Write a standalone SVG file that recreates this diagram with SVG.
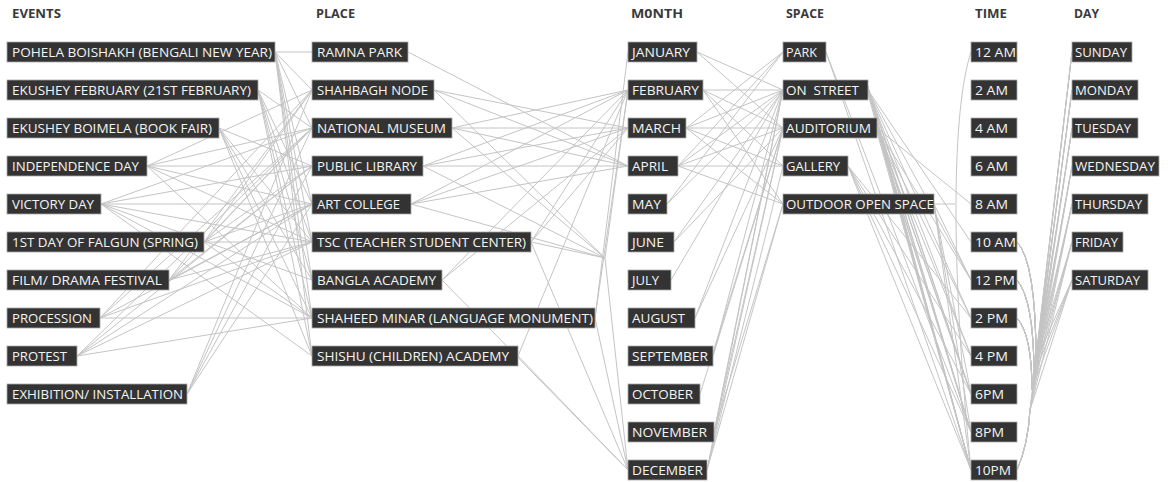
<svg xmlns="http://www.w3.org/2000/svg" width="1168" height="482" viewBox="0 0 1168 482">
<style>
.hd{font-family:"Open Sans","Liberation Sans",sans-serif;font-weight:bold;font-size:12px;fill:#3a3a3a}
.bx{fill:#333333;stroke:#a8a8a8;stroke-width:0.8}
.lb{font-family:"Open Sans","Liberation Sans",sans-serif;font-size:13.5px;fill:#f5f5f5}
#connectors path{fill:none;stroke:#c4c4c4;stroke-width:1}
</style>
<rect width="1168" height="482" fill="#ffffff"/>
<g id="headers">
<text class="hd" x="12" y="18" textLength="49" lengthAdjust="spacingAndGlyphs">EVENTS</text>
<text class="hd" x="316" y="18" textLength="39" lengthAdjust="spacingAndGlyphs">PLACE</text>
<text class="hd" x="631" y="18" textLength="52" lengthAdjust="spacingAndGlyphs">M0NTH</text>
<text class="hd" x="786" y="18" textLength="38" lengthAdjust="spacingAndGlyphs">SPACE</text>
<text class="hd" x="975" y="18" textLength="32" lengthAdjust="spacingAndGlyphs">TIME</text>
<text class="hd" x="1074" y="18" textLength="25" lengthAdjust="spacingAndGlyphs">DAY</text>
</g>
<g id="connectors">
<!-- events to places -->
<path d="M275 52L312 52M275 52L312 90M275 52L312 128M275 52L312 204M275 52L312 242M275 52L312 280M275 52L312 318M275 52L312 356"/>
<path d="M258 90L312 128M258 90L312 204M258 90L312 242M258 90L312 280M258 90L312 318M258 90L312 356"/>
<path d="M219 128L312 166M219 128L312 242M219 128L312 280M219 128L312 318M219 128L312 356"/>
<path d="M147 166L312 90M147 166L312 128M147 166L312 166M147 166L312 204M147 166L312 242M147 166L312 318"/>
<path d="M101 204L312 128M101 204L312 166M101 204L312 204M101 204L312 242M101 204L312 280M101 204L312 318M101 204L312 356"/>
<path d="M204 242L312 90M204 242L312 128M204 242L312 166M204 242L312 204M204 242L312 242M204 242L312 318"/>
<path d="M169 280L312 90M169 280L312 128M169 280L312 166M169 280L312 204M169 280L312 242"/>
<path d="M100 318L312 90M100 318L312 128M100 318L312 204M100 318L312 242M100 318L312 318"/>
<path d="M77 356L312 128M77 356L312 166M77 356L312 204M77 356L312 242M77 356L312 318"/>
<path d="M187 394L312 90M187 394L312 128M187 394L312 166M187 394L312 204"/>
<!-- places to months -->
<path d="M408 52L628 166"/>
<path d="M434 90L628 128M434 90L628 166M434 90L605 258"/>
<path d="M452 128L628 90M452 128L628 128M452 128L628 166M452 128L605 258"/>
<path d="M423 166L628 90M423 166L628 128M423 166L628 166M423 166L605 258"/>
<path d="M411 204L628 90M411 204L628 128M411 204L628 166M411 204L605 258"/>
<path d="M531 242L628 90M531 242L628 128M531 242L628 470M531 242L605 258"/>
<path d="M442 280L628 90M442 280L628 128M442 280L628 470"/>
<path d="M595 318L628 52M595 318L628 90M595 318L628 470"/>
<path d="M518 356L628 90M518 356L628 470"/>
<path d="M605 258L628 90M605 258L628 470"/>
<!-- months to spaces -->
<path d="M697 52L783 90M697 52L783 128"/>
<path d="M703 90L783 90M703 90L783 128M703 90L783 166M703 90L783 204"/>
<path d="M686 128L783 52M686 128L783 90M686 128L783 128M686 128L783 166M686 128L783 204"/>
<path d="M678 166L783 52M678 166L783 90M678 166L783 128M678 166L783 166M678 166L783 204"/>
<path d="M667 204L783 52M667 204L783 90"/>
<path d="M674 242L783 90M674 242L783 128"/>
<path d="M671 280L783 90"/>
<path d="M695 318L783 90M695 318L783 128"/>
<path d="M713 356L783 90M713 356L783 128"/>
<path d="M700 394L783 128"/>
<path d="M714 432L783 90M714 432L783 128M714 432L783 204"/>
<path d="M707 470L783 90M707 470L783 128M707 470L783 166M707 470L783 204"/>
<!-- spaces to times -->
<path d="M826 52L971 432M826 52L971 470"/>
<path d="M868 90L971 242M868 90L971 280M868 90L971 318M868 90L971 356M868 90L971 394M868 90L971 432M868 90L971 470"/>
<path d="M868 88L971 394M868 92L971 432M868 94L971 470M868 86L971 470"/>
<path d="M877 128L971 204M877 128L971 280M877 128L971 318M877 128L971 356M877 128L971 394M877 128L971 432M877 128L971 470"/>
<path d="M877 126L971 394M877 130L971 432M877 132L971 470M877 124L971 470"/>
<path d="M848 166L971 318M848 166L971 356M848 166L971 394M848 166L971 432M848 166L971 470"/>
<path d="M934 204L955 204M934 204L971 280M934 204L971 394M934 204L971 432M934 204L971 470"/>
<path d="M971 52C952 110 950 260 971 470"/>
<!-- times to days -->
<path d="M1017 242Q1036 262 1036 360L1072 52M1017 242Q1036 262 1036 360L1072 90M1017 242Q1036 262 1036 360L1072 128M1017 242Q1036 262 1036 360L1072 166M1017 242Q1036 262 1036 360L1072 204M1017 242Q1036 262 1036 360L1072 242M1017 242Q1036 262 1036 360L1072 280"/>
<path d="M1017 280Q1034 300 1034 375L1072 52M1017 280Q1034 300 1034 375L1072 90M1017 280Q1034 300 1034 375L1072 128M1017 280Q1034 300 1034 375L1072 166M1017 280Q1034 300 1034 375L1072 204M1017 280Q1034 300 1034 375L1072 242M1017 280Q1034 300 1034 375L1072 280"/>
<path d="M1017 318Q1032 335 1032 390L1072 52M1017 318Q1032 335 1032 390L1072 90M1017 318Q1032 335 1032 390L1072 128M1017 318Q1032 335 1032 390L1072 166M1017 318Q1032 335 1032 390L1072 204M1017 318Q1032 335 1032 390L1072 242M1017 318Q1032 335 1032 390L1072 280"/>
<path d="M1017 470Q1028 445 1030 410L1072 52M1017 470Q1028 445 1030 410L1072 90M1017 470Q1028 445 1030 410L1072 128M1017 470Q1028 445 1030 410L1072 166M1017 470Q1028 445 1030 410L1072 204M1017 470Q1028 445 1030 410L1072 242M1017 470Q1028 445 1030 410L1072 280"/>
</g>
<!-- events -->
<g id="ev-pohela"><rect class="bx" x="7" y="42" width="268" height="20"/><text class="lb" x="12" y="57.3" textLength="260" lengthAdjust="spacingAndGlyphs">POHELA BOISHAKH (BENGALI NEW YEAR)</text></g>
<g id="ev-ekushey"><rect class="bx" x="7" y="80" width="251" height="20"/><text class="lb" x="12" y="95.3" textLength="239" lengthAdjust="spacingAndGlyphs">EKUSHEY FEBRUARY (21ST FEBRUARY)</text></g>
<g id="ev-boimela"><rect class="bx" x="7" y="118" width="212" height="20"/><text class="lb" x="12" y="133.3" textLength="200" lengthAdjust="spacingAndGlyphs">EKUSHEY BOIMELA (BOOK FAIR)</text></g>
<g id="ev-independence"><rect class="bx" x="7" y="156" width="140" height="20"/><text class="lb" x="12" y="171.3" textLength="127" lengthAdjust="spacingAndGlyphs">INDEPENDENCE DAY</text></g>
<g id="ev-victory"><rect class="bx" x="7" y="194" width="94" height="20"/><text class="lb" x="12" y="209.3" textLength="82" lengthAdjust="spacingAndGlyphs">VICTORY DAY</text></g>
<g id="ev-falgun"><rect class="bx" x="7" y="232" width="197" height="20"/><text class="lb" x="12" y="247.3" textLength="186" lengthAdjust="spacingAndGlyphs">1ST DAY OF FALGUN (SPRING)</text></g>
<g id="ev-film"><rect class="bx" x="7" y="270" width="162" height="20"/><text class="lb" x="12" y="285.3" textLength="150" lengthAdjust="spacingAndGlyphs">FILM/ DRAMA FESTIVAL</text></g>
<g id="ev-procession"><rect class="bx" x="7" y="308" width="93" height="20"/><text class="lb" x="12" y="323.3" textLength="80" lengthAdjust="spacingAndGlyphs">PROCESSION</text></g>
<g id="ev-protest"><rect class="bx" x="7" y="346" width="70" height="20"/><text class="lb" x="12" y="361.3" textLength="55" lengthAdjust="spacingAndGlyphs">PROTEST</text></g>
<g id="ev-exhibition"><rect class="bx" x="7" y="384" width="180" height="20"/><text class="lb" x="12" y="399.3" textLength="171" lengthAdjust="spacingAndGlyphs">EXHIBITION/ INSTALLATION</text></g>
<!-- places -->
<g id="pl-ramna"><rect class="bx" x="312" y="42" width="96" height="20"/><text class="lb" x="317" y="57.3" textLength="85" lengthAdjust="spacingAndGlyphs">RAMNA PARK</text></g>
<g id="pl-shahbagh"><rect class="bx" x="312" y="80" width="122" height="20"/><text class="lb" x="317" y="95.3" textLength="111" lengthAdjust="spacingAndGlyphs">SHAHBAGH NODE</text></g>
<g id="pl-museum"><rect class="bx" x="312" y="118" width="140" height="20"/><text class="lb" x="317" y="133.3" textLength="129" lengthAdjust="spacingAndGlyphs">NATIONAL MUSEUM</text></g>
<g id="pl-library"><rect class="bx" x="312" y="156" width="111" height="20"/><text class="lb" x="317" y="171.3" textLength="100" lengthAdjust="spacingAndGlyphs">PUBLIC LIBRARY</text></g>
<g id="pl-artcollege"><rect class="bx" x="312" y="194" width="99" height="20"/><text class="lb" x="317" y="209.3" textLength="83" lengthAdjust="spacingAndGlyphs">ART COLLEGE</text></g>
<g id="pl-tsc"><rect class="bx" x="312" y="232" width="219" height="20"/><text class="lb" x="317" y="247.3" textLength="209" lengthAdjust="spacingAndGlyphs">TSC (TEACHER STUDENT CENTER)</text></g>
<g id="pl-bangla"><rect class="bx" x="312" y="270" width="130" height="20"/><text class="lb" x="317" y="285.3" textLength="119" lengthAdjust="spacingAndGlyphs">BANGLA ACADEMY</text></g>
<g id="pl-shaheed"><rect class="bx" x="312" y="308" width="283" height="20"/><text class="lb" x="317" y="323.3" textLength="276" lengthAdjust="spacingAndGlyphs">SHAHEED MINAR (LANGUAGE MONUMENT)</text></g>
<g id="pl-shishu"><rect class="bx" x="312" y="346" width="206" height="20"/><text class="lb" x="317" y="361.3" textLength="192" lengthAdjust="spacingAndGlyphs">SHISHU (CHILDREN) ACADEMY</text></g>
<!-- months -->
<g id="mo-jan"><rect class="bx" x="628" y="42" width="69" height="20"/><text class="lb" x="632" y="57.3" textLength="58" lengthAdjust="spacingAndGlyphs">JANUARY</text></g>
<g id="mo-feb"><rect class="bx" x="628" y="80" width="75" height="20"/><text class="lb" x="632" y="95.3" textLength="67" lengthAdjust="spacingAndGlyphs">FEBRUARY</text></g>
<g id="mo-mar"><rect class="bx" x="628" y="118" width="58" height="20"/><text class="lb" x="632" y="133.3" textLength="49" lengthAdjust="spacingAndGlyphs">MARCH</text></g>
<g id="mo-apr"><rect class="bx" x="628" y="156" width="50" height="20"/><text class="lb" x="632" y="171.3" textLength="36" lengthAdjust="spacingAndGlyphs">APRIL</text></g>
<g id="mo-may"><rect class="bx" x="628" y="194" width="39" height="20"/><text class="lb" x="632" y="209.3" textLength="29" lengthAdjust="spacingAndGlyphs">MAY</text></g>
<g id="mo-jun"><rect class="bx" x="628" y="232" width="46" height="20"/><text class="lb" x="632" y="247.3" textLength="32" lengthAdjust="spacingAndGlyphs">JUNE</text></g>
<g id="mo-jul"><rect class="bx" x="628" y="270" width="43" height="20"/><text class="lb" x="632" y="285.3" textLength="27" lengthAdjust="spacingAndGlyphs">JULY</text></g>
<g id="mo-aug"><rect class="bx" x="628" y="308" width="67" height="20"/><text class="lb" x="632" y="323.3" textLength="53" lengthAdjust="spacingAndGlyphs">AUGUST</text></g>
<g id="mo-sep"><rect class="bx" x="628" y="346" width="85" height="20"/><text class="lb" x="632" y="361.3" textLength="76" lengthAdjust="spacingAndGlyphs">SEPTEMBER</text></g>
<g id="mo-oct"><rect class="bx" x="628" y="384" width="72" height="20"/><text class="lb" x="632" y="399.3" textLength="61" lengthAdjust="spacingAndGlyphs">OCTOBER</text></g>
<g id="mo-nov"><rect class="bx" x="628" y="422" width="86" height="20"/><text class="lb" x="632" y="437.3" textLength="75" lengthAdjust="spacingAndGlyphs">NOVEMBER</text></g>
<g id="mo-dec"><rect class="bx" x="628" y="460" width="79" height="20"/><text class="lb" x="632" y="475.3" textLength="71" lengthAdjust="spacingAndGlyphs">DECEMBER</text></g>
<!-- spaces -->
<g id="sp-park"><rect class="bx" x="783" y="42" width="43" height="20"/><text class="lb" x="786" y="57.3" textLength="31" lengthAdjust="spacingAndGlyphs">PARK</text></g>
<g id="sp-street"><rect class="bx" x="783" y="80" width="85" height="20"/><text class="lb" x="786" y="95.3" textLength="73" lengthAdjust="spacingAndGlyphs" xml:space="preserve">ON  STREET</text></g>
<g id="sp-auditorium"><rect class="bx" x="783" y="118" width="94" height="20"/><text class="lb" x="786" y="133.3" textLength="85" lengthAdjust="spacingAndGlyphs">AUDITORIUM</text></g>
<g id="sp-gallery"><rect class="bx" x="783" y="156" width="65" height="20"/><text class="lb" x="786" y="171.3" textLength="54" lengthAdjust="spacingAndGlyphs">GALLERY</text></g>
<g id="sp-outdoor"><rect class="bx" x="783" y="194" width="151" height="20"/><text class="lb" x="786" y="209.3" textLength="148" lengthAdjust="spacingAndGlyphs">OUTDOOR OPEN SPACE</text></g>
<!-- times -->
<g id="tm-12am"><rect class="bx" x="971" y="42" width="46" height="20"/><text class="lb" x="975" y="57.3" textLength="41" lengthAdjust="spacingAndGlyphs">12 AM</text></g>
<g id="tm-2am"><rect class="bx" x="971" y="80" width="46" height="20"/><text class="lb" x="975" y="95.3" textLength="33" lengthAdjust="spacingAndGlyphs">2 AM</text></g>
<g id="tm-4am"><rect class="bx" x="971" y="118" width="46" height="20"/><text class="lb" x="975" y="133.3" textLength="33" lengthAdjust="spacingAndGlyphs">4 AM</text></g>
<g id="tm-6am"><rect class="bx" x="971" y="156" width="46" height="20"/><text class="lb" x="975" y="171.3" textLength="33" lengthAdjust="spacingAndGlyphs">6 AM</text></g>
<g id="tm-8am"><rect class="bx" x="971" y="194" width="46" height="20"/><text class="lb" x="975" y="209.3" textLength="33" lengthAdjust="spacingAndGlyphs">8 AM</text></g>
<g id="tm-10am"><rect class="bx" x="971" y="232" width="46" height="20"/><text class="lb" x="975" y="247.3" textLength="41" lengthAdjust="spacingAndGlyphs">10 AM</text></g>
<g id="tm-12pm"><rect class="bx" x="971" y="270" width="46" height="20"/><text class="lb" x="975" y="285.3" textLength="40" lengthAdjust="spacingAndGlyphs">12 PM</text></g>
<g id="tm-2pm"><rect class="bx" x="971" y="308" width="46" height="20"/><text class="lb" x="975" y="323.3" textLength="33" lengthAdjust="spacingAndGlyphs">2 PM</text></g>
<g id="tm-4pm"><rect class="bx" x="971" y="346" width="46" height="20"/><text class="lb" x="975" y="361.3" textLength="33" lengthAdjust="spacingAndGlyphs">4 PM</text></g>
<g id="tm-6pm"><rect class="bx" x="971" y="384" width="46" height="20"/><text class="lb" x="975" y="399.3" textLength="29" lengthAdjust="spacingAndGlyphs">6PM</text></g>
<g id="tm-8pm"><rect class="bx" x="971" y="422" width="46" height="20"/><text class="lb" x="975" y="437.3" textLength="29" lengthAdjust="spacingAndGlyphs">8PM</text></g>
<g id="tm-10pm"><rect class="bx" x="971" y="460" width="46" height="20"/><text class="lb" x="975" y="475.3" textLength="36" lengthAdjust="spacingAndGlyphs">10PM</text></g>
<!-- days -->
<g id="dy-sun"><rect class="bx" x="1072" y="42" width="60" height="20"/><text class="lb" x="1075" y="57.3" textLength="52" lengthAdjust="spacingAndGlyphs">SUNDAY</text></g>
<g id="dy-mon"><rect class="bx" x="1072" y="80" width="66" height="20"/><text class="lb" x="1075" y="95.3" textLength="57" lengthAdjust="spacingAndGlyphs">MONDAY</text></g>
<g id="dy-tue"><rect class="bx" x="1072" y="118" width="66" height="20"/><text class="lb" x="1075" y="133.3" textLength="56" lengthAdjust="spacingAndGlyphs">TUESDAY</text></g>
<g id="dy-wed"><rect class="bx" x="1072" y="156" width="87" height="20"/><text class="lb" x="1075" y="171.3" textLength="80" lengthAdjust="spacingAndGlyphs">WEDNESDAY</text></g>
<g id="dy-thu"><rect class="bx" x="1072" y="194" width="76" height="20"/><text class="lb" x="1075" y="209.3" textLength="67" lengthAdjust="spacingAndGlyphs">THURSDAY</text></g>
<g id="dy-fri"><rect class="bx" x="1072" y="232" width="51" height="20"/><text class="lb" x="1075" y="247.3" textLength="43" lengthAdjust="spacingAndGlyphs">FRIDAY</text></g>
<g id="dy-sat"><rect class="bx" x="1072" y="270" width="76" height="20"/><text class="lb" x="1075" y="285.3" textLength="65" lengthAdjust="spacingAndGlyphs">SATURDAY</text></g>
</svg>
